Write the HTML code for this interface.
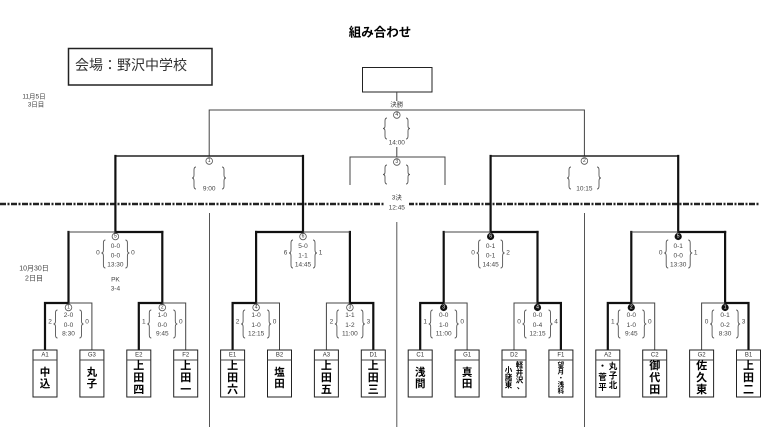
<!DOCTYPE html>
<html><head><meta charset="utf-8"><style>
html,body{margin:0;padding:0;background:#fff;}
svg{display:block;}
text{font-family:"Liberation Sans","Noto Sans CJK JP",sans-serif;}
.s{font-size:6.5px;fill:#444;text-anchor:middle;dominant-baseline:central;}
.l{font-size:6px;fill:#333;text-anchor:middle;dominant-baseline:central;}
.n{font-size:11px;font-weight:bold;fill:#000;text-anchor:middle;dominant-baseline:central;font-family:"Noto Sans CJK JP","WenQuanYi Zen Hei",sans-serif;}
.n2{font-size:10.5px;font-weight:bold;fill:#000;text-anchor:middle;dominant-baseline:central;font-family:"Noto Sans CJK JP","WenQuanYi Zen Hei",sans-serif;}
.sm{font-size:7.5px;font-weight:bold;fill:#000;text-anchor:middle;dominant-baseline:central;font-family:"Noto Sans CJK JP","WenQuanYi Zen Hei",sans-serif;}
.cn{font-size:5px;text-anchor:middle;dominant-baseline:central;}
.thin{fill:none;stroke:#444;stroke-width:1;}
.thick{fill:none;stroke:#111;stroke-width:2.2;stroke-linecap:square;}
.br{fill:none;stroke:#555;stroke-width:0.9;}
.box{fill:#fff;stroke:#222;stroke-width:1;}
</style></head><body>
<svg width="782" height="427" viewBox="0 0 782 427" xmlns="http://www.w3.org/2000/svg">
<!-- title -->
<text x="380" y="31" style="font-size:12.5px;font-weight:bold;text-anchor:middle;dominant-baseline:central;font-family:'Noto Sans CJK JP',sans-serif;">組み合わせ</text>
<!-- venue -->
<rect x="68.5" y="48.5" width="143.5" height="36.5" fill="none" stroke="#222" stroke-width="1.5"/>
<text x="75" y="65" style="font-size:14px;fill:#333;dominant-baseline:central;font-family:'Noto Sans CJK JP',sans-serif;">会場：野沢中学校</text>
<!-- dates -->
<text x="34" y="97" class="s" style="font-size:6.5px">11月5日</text>
<text x="36" y="105" class="s" style="font-size:6.5px">3日目</text>
<text x="34" y="269" class="s" style="font-size:7px">10月30日</text>
<text x="34" y="279" class="s" style="font-size:7px">2日目</text>

<!-- top box -->
<rect x="362.5" y="67.5" width="69.5" height="24.5" fill="none" stroke="#222" stroke-width="1"/>

<!-- separators -->
<path class="thin" d="M209.5 213V427M396.8 222V427M584.5 213V427" style="stroke:#555"/>

<!-- dashed line -->
<path d="M0 204H385M408 204H760" stroke="#222" stroke-width="2.6" stroke-dasharray="6 1.5 2 1.5" fill="none"/>

<!-- final / 3rd place / SF lines -->
<path class="thin" d="M396.8 92V102M209.2 156V110H584.4V156M396.8 147V157M350 185V157H445V185"/>
<path fill="none" stroke="#222" stroke-width="1.5" d="M115.4 156H303M490.6 156H678.2"/>

<!-- round 1 thick / thin -->
<path class="thick" d="M45 350V303H68.5V232M138.8 350V303H162.3V232M232.6 350V303H256.1V232M373.3 350V303H349.9V232M420.2 350V303H443.7V232M560.9 350V303H537.5V232M607.8 350V303H631.3V232M748.5 350V303H725.1V232"/>
<path class="thin" d="M68.5 303H91.9V350M162.3 303H185.7V350M256.1 303H279.5V350M349.9 303H326.4V350M443.7 303H467.1V350M537.5 303H514V350M631.3 303H654.7V350M725.1 303H701.6V350"/>
<!-- QF -->
<path class="thick" d="M162.3 232H115.4V156M256.1 232H303V156M537.5 232H490.6V156M725.1 232H678.2V156"/>
<path class="thin" d="M115.4 232H68.5M303 232H349.9M490.6 232H443.7M678.2 232H631.3"/>

<!-- Final node -->
<rect x="386" y="101" width="22" height="8" fill="#fff"/>
<text x="396.8" y="105" class="s">決勝</text>
<circle cx="396.8" cy="115" r="3.3" fill="#fff" stroke="#555" stroke-width="0.8"/><text x="396.8" y="115" class="cn" fill="#333">4</text>
<path class="br" d="M387 118Q385 118 385 121V126Q385 128.5 383 128.5Q385 128.5 385 131V136Q385 139 387 139M406 118Q408 118 408 121V126Q408 128.5 410 128.5Q408 128.5 408 131V136Q408 139 406 139"/>
<text x="396.8" y="143" class="s">14:00</text>
<!-- 3rd place -->
<circle cx="396.8" cy="162" r="3.3" fill="#fff" stroke="#555" stroke-width="0.8"/><text x="396.8" y="162" class="cn" fill="#333">3</text>
<path class="br" d="M387 165Q385 165 385 168V172Q385 174.5 383 174.5Q385 174.5 385 177V181Q385 184 387 184M406 165Q408 165 408 168V172Q408 174.5 410 174.5Q408 174.5 408 177V181Q408 184 406 184"/>
<rect x="385" y="193" width="24" height="20" fill="#fff"/>
<text x="396.8" y="198" class="s">3決</text>
<text x="396.8" y="208" class="s">12:45</text>

<!-- SF nodes -->
<circle cx="209.2" cy="161" r="3.3" fill="#fff" stroke="#555" stroke-width="0.8"/><text x="209.2" y="161" class="cn" fill="#333">1</text>
<path class="br" d="M196 167Q194 167 194 170V175Q194 178 192 178Q194 178 194 181V186Q194 189 196 189M222 167Q224 167 224 170V175Q224 178 226 178Q224 178 224 181V186Q224 189 222 189"/>
<text x="209.2" y="189" class="s">9:00</text>
<circle cx="584.4" cy="161" r="3.3" fill="#fff" stroke="#555" stroke-width="0.8"/><text x="584.4" y="161" class="cn" fill="#333">2</text>
<path class="br" d="M571 167Q569 167 569 170V175Q569 178 567 178Q569 178 569 181V186Q569 189 571 189M597 167Q599 167 599 170V175Q599 178 601 178Q599 178 599 181V186Q599 189 597 189"/>
<text x="584.4" y="189" class="s">10:15</text>

<!-- QF nodes (by=232) -->
<g id="q0">
<circle cx="115.4" cy="236.5" r="3.3" fill="#fff" stroke="#555" stroke-width="0.8"/><text x="115.4" y="236.5" class="cn" fill="#333">5</text>
<path class="br" d="M105.4 240Q103.4 240 103.4 243V250Q103.4 253 101.4 253Q103.4 253 103.4 256V265Q103.4 268 105.4 268M125.4 240Q127.4 240 127.4 243V250Q127.4 253 129.4 253Q127.4 253 127.4 256V265Q127.4 268 125.4 268"/>
<text x="115.4" y="246.5" class="s">0-0</text><text x="115.4" y="256" class="s">0-0</text><text x="115.4" y="265" class="s">13:30</text>
<text x="97.9" y="253" class="s">0</text><text x="132.9" y="253" class="s">0</text>
<text x="115.4" y="280" class="s">PK</text><text x="115.4" y="289" class="s">3-4</text>
</g>
<g>
<circle cx="303" cy="236.5" r="3.3" fill="#fff" stroke="#555" stroke-width="0.8"/><text x="303" y="236.5" class="cn" fill="#333">6</text>
<path class="br" d="M293 240Q291 240 291 243V250Q291 253 289 253Q291 253 291 256V265Q291 268 293 268M313 240Q315 240 315 243V250Q315 253 317 253Q315 253 315 256V265Q315 268 313 268"/>
<text x="303" y="246.5" class="s">5-0</text><text x="303" y="256" class="s">1-1</text><text x="303" y="265" class="s">14:45</text>
<text x="285.5" y="253" class="s">6</text><text x="320.5" y="253" class="s">1</text>
</g>
<g>
<circle cx="490.6" cy="236.5" r="3.6" fill="#111"/><text x="490.6" y="236.5" class="cn" fill="#fff">6</text>
<path class="br" d="M480.6 240Q478.6 240 478.6 243V250Q478.6 253 476.6 253Q478.6 253 478.6 256V265Q478.6 268 480.6 268M500.6 240Q502.6 240 502.6 243V250Q502.6 253 504.6 253Q502.6 253 502.6 256V265Q502.6 268 500.6 268"/>
<text x="490.6" y="246.5" class="s">0-1</text><text x="490.6" y="256" class="s">0-1</text><text x="490.6" y="265" class="s">14:45</text>
<text x="473.1" y="253" class="s">0</text><text x="508.1" y="253" class="s">2</text>
</g>
<g>
<circle cx="678.2" cy="236.5" r="3.6" fill="#111"/><text x="678.2" y="236.5" class="cn" fill="#fff">5</text>
<path class="br" d="M668.2 240Q666.2 240 666.2 243V250Q666.2 253 664.2 253Q666.2 253 666.2 256V265Q666.2 268 668.2 268M688.2 240Q690.2 240 690.2 243V250Q690.2 253 692.2 253Q690.2 253 690.2 256V265Q690.2 268 688.2 268"/>
<text x="678.2" y="246.5" class="s">0-1</text><text x="678.2" y="256" class="s">0-0</text><text x="678.2" y="265" class="s">13:30</text>
<text x="660.7" y="253" class="s">0</text><text x="695.7" y="253" class="s">1</text>
</g>

<!-- Round 1 nodes (by=303) -->
<g>
<circle cx="68.5" cy="307.5" r="3.3" fill="#fff" stroke="#555" stroke-width="0.8"/><text x="68.5" y="307.5" class="cn" fill="#333">1</text>
<path class="br" d="M57.5 310Q55.5 310 55.5 313V321Q55.5 324 53.5 324Q55.5 324 55.5 327V335Q55.5 338 57.5 338M79.5 310Q81.5 310 81.5 313V321Q81.5 324 83.5 324Q81.5 324 81.5 327V335Q81.5 338 79.5 338"/>
<text x="68.5" y="315.5" class="s">2-0</text><text x="68.5" y="325.5" class="s">0-0</text><text x="68.5" y="334" class="s">8:30</text>
<text x="50" y="322" class="s">2</text><text x="87" y="322" class="s">0</text>
</g>
<g>
<circle cx="162.3" cy="307.5" r="3.3" fill="#fff" stroke="#555" stroke-width="0.8"/><text x="162.3" y="307.5" class="cn" fill="#333">2</text>
<path class="br" d="M151.3 310Q149.3 310 149.3 313V321Q149.3 324 147.3 324Q149.3 324 149.3 327V335Q149.3 338 151.3 338M173.3 310Q175.3 310 175.3 313V321Q175.3 324 177.3 324Q175.3 324 175.3 327V335Q175.3 338 173.3 338"/>
<text x="162.3" y="315.5" class="s">1-0</text><text x="162.3" y="325.5" class="s">0-0</text><text x="162.3" y="334" class="s">9:45</text>
<text x="143.8" y="322" class="s">1</text><text x="180.8" y="322" class="s">0</text>
</g>
<g>
<circle cx="256.1" cy="307.5" r="3.3" fill="#fff" stroke="#555" stroke-width="0.8"/><text x="256.1" y="307.5" class="cn" fill="#333">4</text>
<path class="br" d="M245.1 310Q243.1 310 243.1 313V321Q243.1 324 241.1 324Q243.1 324 243.1 327V335Q243.1 338 245.1 338M267.1 310Q269.1 310 269.1 313V321Q269.1 324 271.1 324Q269.1 324 269.1 327V335Q269.1 338 267.1 338"/>
<text x="256.1" y="315.5" class="s">1-0</text><text x="256.1" y="325.5" class="s">1-0</text><text x="256.1" y="334" class="s">12:15</text>
<text x="237.6" y="322" class="s">2</text><text x="274.6" y="322" class="s">0</text>
</g>
<g>
<circle cx="349.9" cy="307.5" r="3.3" fill="#fff" stroke="#555" stroke-width="0.8"/><text x="349.9" y="307.5" class="cn" fill="#333">3</text>
<path class="br" d="M338.9 310Q336.9 310 336.9 313V321Q336.9 324 334.9 324Q336.9 324 336.9 327V335Q336.9 338 338.9 338M360.9 310Q362.9 310 362.9 313V321Q362.9 324 364.9 324Q362.9 324 362.9 327V335Q362.9 338 360.9 338"/>
<text x="349.9" y="315.5" class="s">1-1</text><text x="349.9" y="325.5" class="s">1-2</text><text x="349.9" y="334" class="s">11:00</text>
<text x="331.4" y="322" class="s">2</text><text x="368.4" y="322" class="s">3</text>
</g>
<g>
<circle cx="443.7" cy="307.5" r="3.6" fill="#111"/><text x="443.7" y="307.5" class="cn" fill="#fff">3</text>
<path class="br" d="M432.7 310Q430.7 310 430.7 313V321Q430.7 324 428.7 324Q430.7 324 430.7 327V335Q430.7 338 432.7 338M454.7 310Q456.7 310 456.7 313V321Q456.7 324 458.7 324Q456.7 324 456.7 327V335Q456.7 338 454.7 338"/>
<text x="443.7" y="315.5" class="s">0-0</text><text x="443.7" y="325.5" class="s">1-0</text><text x="443.7" y="334" class="s">11:00</text>
<text x="425.2" y="322" class="s">1</text><text x="462.2" y="322" class="s">0</text>
</g>
<g>
<circle cx="537.5" cy="307.5" r="3.6" fill="#111"/><text x="537.5" y="307.5" class="cn" fill="#fff">4</text>
<path class="br" d="M526.5 310Q524.5 310 524.5 313V321Q524.5 324 522.5 324Q524.5 324 524.5 327V335Q524.5 338 526.5 338M548.5 310Q550.5 310 550.5 313V321Q550.5 324 552.5 324Q550.5 324 550.5 327V335Q550.5 338 548.5 338"/>
<text x="537.5" y="315.5" class="s">0-0</text><text x="537.5" y="325.5" class="s">0-4</text><text x="537.5" y="334" class="s">12:15</text>
<text x="519" y="322" class="s">0</text><text x="556" y="322" class="s">4</text>
</g>
<g>
<circle cx="631.3" cy="307.5" r="3.6" fill="#111"/><text x="631.3" y="307.5" class="cn" fill="#fff">2</text>
<path class="br" d="M620.3 310Q618.3 310 618.3 313V321Q618.3 324 616.3 324Q618.3 324 618.3 327V335Q618.3 338 620.3 338M642.3 310Q644.3 310 644.3 313V321Q644.3 324 646.3 324Q644.3 324 644.3 327V335Q644.3 338 642.3 338"/>
<text x="631.3" y="315.5" class="s">0-0</text><text x="631.3" y="325.5" class="s">1-0</text><text x="631.3" y="334" class="s">9:45</text>
<text x="612.8" y="322" class="s">1</text><text x="649.8" y="322" class="s">0</text>
</g>
<g>
<circle cx="725.1" cy="307.5" r="3.6" fill="#111"/><text x="725.1" y="307.5" class="cn" fill="#fff">1</text>
<path class="br" d="M714.1 310Q712.1 310 712.1 313V321Q712.1 324 710.1 324Q712.1 324 712.1 327V335Q712.1 338 714.1 338M736.1 310Q738.1 310 738.1 313V321Q738.1 324 740.1 324Q738.1 324 738.1 327V335Q738.1 338 736.1 338"/>
<text x="725.1" y="315.5" class="s">0-1</text><text x="725.1" y="325.5" class="s">0-2</text><text x="725.1" y="334" class="s">8:30</text>
<text x="706.6" y="322" class="s">0</text><text x="743.6" y="322" class="s">3</text>
</g>

<!-- Team boxes -->
<g>
<rect class="box" x="33" y="350" width="24" height="47"/><path class="thin" d="M33 360H57"/>
<text x="45" y="355.3" class="l">A1</text>
<text x="45" y="372" class="n2">中</text><text x="45" y="383.5" class="n2">込</text>

<rect class="box" x="79.9" y="350" width="24" height="47"/><path class="thin" d="M79.9 360H103.9"/>
<text x="91.9" y="355.3" class="l">G3</text>
<text x="91.9" y="372" class="n2">丸</text><text x="91.9" y="383.5" class="n2">子</text>

<rect class="box" x="126.8" y="350" width="24" height="47"/><path class="thin" d="M126.8 360H150.8"/>
<text x="138.8" y="355.3" class="l">E2</text>
<text x="138.8" y="365" class="n">上</text><text x="138.8" y="377" class="n">田</text><text x="138.8" y="389" class="n">四</text>

<rect class="box" x="173.7" y="350" width="24" height="47"/><path class="thin" d="M173.7 360H197.7"/>
<text x="185.7" y="355.3" class="l">F2</text>
<text x="185.7" y="365" class="n">上</text><text x="185.7" y="377" class="n">田</text><text x="185.7" y="389" class="n">一</text>

<rect class="box" x="220.6" y="350" width="24" height="47"/><path class="thin" d="M220.6 360H244.6"/>
<text x="232.6" y="355.3" class="l">E1</text>
<text x="232.6" y="365" class="n">上</text><text x="232.6" y="377" class="n">田</text><text x="232.6" y="389" class="n">六</text>

<rect class="box" x="267.5" y="350" width="24" height="47"/><path class="thin" d="M267.5 360H291.5"/>
<text x="279.5" y="355.3" class="l">B2</text>
<text x="279.5" y="372" class="n2">塩</text><text x="279.5" y="383.5" class="n2">田</text>

<rect class="box" x="314.4" y="350" width="24" height="47"/><path class="thin" d="M314.4 360H338.4"/>
<text x="326.4" y="355.3" class="l">A3</text>
<text x="326.4" y="365" class="n">上</text><text x="326.4" y="377" class="n">田</text><text x="326.4" y="389" class="n">五</text>

<rect class="box" x="361.3" y="350" width="24" height="47"/><path class="thin" d="M361.3 360H385.3"/>
<text x="373.3" y="355.3" class="l">D1</text>
<text x="373.3" y="365" class="n">上</text><text x="373.3" y="377" class="n">田</text><text x="373.3" y="389" class="n">三</text>

<rect class="box" x="408.2" y="350" width="24" height="47"/><path class="thin" d="M408.2 360H432.2"/>
<text x="420.2" y="355.3" class="l">C1</text>
<text x="420.2" y="372" class="n2">浅</text><text x="420.2" y="383.5" class="n2">間</text>

<rect class="box" x="455.1" y="350" width="24" height="47"/><path class="thin" d="M455.1 360H479.1"/>
<text x="467.1" y="355.3" class="l">G1</text>
<text x="467.1" y="372" class="n2">真</text><text x="467.1" y="383.5" class="n2">田</text>

<rect class="box" x="502" y="350" width="24" height="47"/><path class="thin" d="M502 360H526"/>
<text x="514" y="355.3" class="l">D2</text>
<text x="519.5" y="365" class="sm">軽</text><text x="519.5" y="372.5" class="sm">井</text><text x="519.5" y="380" class="sm">沢</text><text x="520.5" y="386" class="sm">、</text>
<text x="508.5" y="370" class="sm">小</text><text x="508.5" y="377.5" class="sm">諸</text><text x="508.5" y="385" class="sm">東</text>

<rect class="box" x="548.9" y="350" width="24" height="47"/><path class="thin" d="M548.9 360H572.9"/>
<text x="560.9" y="355.3" class="l">F1</text>
<text x="560.9" y="364" class="sm" style="font-size:6.5px">望</text><text x="560.9" y="370.5" class="sm" style="font-size:6.5px">月</text><text x="560.9" y="377" class="sm" style="font-size:6.5px">・</text><text x="560.9" y="383.5" class="sm" style="font-size:6.5px">浅</text><text x="560.9" y="390" class="sm" style="font-size:6.5px">科</text>

<rect class="box" x="595.8" y="350" width="24" height="47"/><path class="thin" d="M595.8 360H619.8"/>
<text x="607.8" y="355.3" class="l">A2</text>
<text x="613" y="366" class="sm" style="font-size:8.5px">丸</text><text x="613" y="375.5" class="sm" style="font-size:8.5px">子</text><text x="613" y="385" class="sm" style="font-size:8.5px">北</text>
<text x="602.5" y="366" class="sm" style="font-size:8.5px">・</text><text x="602.5" y="377" class="sm" style="font-size:8.5px">菅</text><text x="602.5" y="387" class="sm" style="font-size:8.5px">平</text>

<rect class="box" x="642.7" y="350" width="24" height="47"/><path class="thin" d="M642.7 360H666.7"/>
<text x="654.7" y="355.3" class="l">C2</text>
<text x="654.7" y="365" class="n">御</text><text x="654.7" y="377" class="n">代</text><text x="654.7" y="389" class="n">田</text>

<rect class="box" x="689.6" y="350" width="24" height="47"/><path class="thin" d="M689.6 360H713.6"/>
<text x="701.6" y="355.3" class="l">G2</text>
<text x="701.6" y="365" class="n">佐</text><text x="701.6" y="377" class="n">久</text><text x="701.6" y="389" class="n">東</text>

<rect class="box" x="736.5" y="350" width="24" height="47"/><path class="thin" d="M736.5 360H760.5"/>
<text x="748.5" y="355.3" class="l">B1</text>
<text x="748.5" y="365" class="n">上</text><text x="748.5" y="377" class="n">田</text><text x="748.5" y="389" class="n">二</text>
</g>
</svg>
</body></html>
